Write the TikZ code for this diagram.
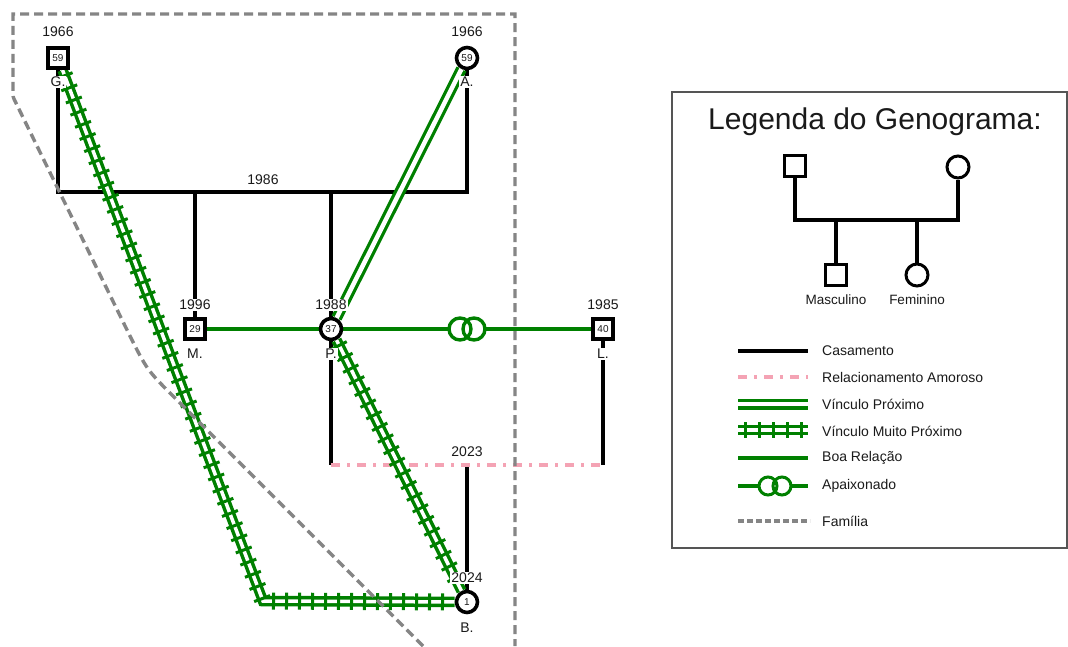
\documentclass[tikz,border=0pt]{standalone}
\usepackage{fontspec}
\setmainfont{Liberation Sans}
\usetikzlibrary{decorations.pathreplacing}
\definecolor{vgreen}{RGB}{0,128,0}
\definecolor{pinkrel}{HTML}{F4A3B4}
\definecolor{famgray}{HTML}{858585}
\definecolor{txt}{HTML}{1A1A1A}
\definecolor{boxgray}{HTML}{555555}
\pgfdeclarelayer{bg}
\pgfdeclarelayer{canvas}
\pgfsetlayers{canvas,bg,main}
\begin{document}
\begin{tikzpicture}[x=1pt,y=-1pt,
  male/.style={draw=black, line width=3.6pt, minimum size=20.5pt, inner sep=0pt, fill=white, text=txt, font=\fontsize{10}{10}\selectfont},
  female/.style={circle, draw=black, line width=3.6pt, minimum size=21pt, inner sep=0pt, fill=white, text=txt, font=\fontsize{10}{10}\selectfont},
  lmale/.style={draw=black, line width=3pt, minimum size=21pt, inner sep=0pt, fill=white},
  lfemale/.style={circle, draw=black, line width=3pt, minimum size=22pt, inner sep=0pt, fill=white},
  lbl/.style={font=\fontsize{14}{14}\selectfont, text=txt, fill=white, inner sep=1pt},
  legtxt/.style={font=\fontsize{14}{14}\selectfont, text=txt, anchor=west, inner sep=0pt},
  mar/.style={draw=black, line width=3.5pt},
  good/.style={draw=vgreen, line width=3.4pt},
  closebond/.style={draw=vgreen, line width=11pt, postaction={draw=white, line width=4.5pt}},
  vclosebond/.style={draw=vgreen, line width=10.5pt,
     postaction={draw=white, line width=3.5pt},
     postaction={decorate, draw=vgreen, line width=3pt,
       decoration={ticks, segment length=13pt, amplitude=8.5pt, pre=moveto, pre length=6pt, post=moveto, post length=4pt}}},
  rel/.style={draw=pinkrel, line width=3.4pt, dash pattern=on 9pt off 7pt on 3pt off 7pt},
  fam/.style={draw=famgray, line width=3.4pt, dash pattern=on 9pt off 5pt},
  passion/.style={draw=vgreen, line width=3.4pt}
]
\useasboundingbox (0,0) rectangle (1068,646);
\begin{pgfonlayer}{canvas}
  \fill[white] (0,0) rectangle (1068,646);
\end{pgfonlayer}

% ---------- persons ----------
\node[male]   (G) at (58,58)   {59};
\node[female] (A) at (467,58)  {59};
\node[male]   (M) at (195,329) {29};
\node[female] (P) at (331,329) {37};
\node[male]   (L) at (603,329) {40};
\node[female] (B) at (467,602) {1};

\coordinate (gm) at (58,192);
\coordinate (am) at (467,192);
\coordinate (mc) at (195,192);
\coordinate (pc) at (331,192);
\coordinate (pb) at (331,465);
\coordinate (lb) at (603,465);
\coordinate (bt) at (467,465);
\coordinate (gb) at (263,601);
\coordinate (pa1) at (460,329);
\coordinate (pa2) at (474,329);

% ---------- labels ----------
\node[lbl] (tG) at (58,32) {1966};
\node[lbl] (nG) at (58,82) {G.};
\node[lbl] (tA) at (467,32) {1966};
\node[lbl] (nA) at (467,82) {A.};
\node[lbl] (tGA) at (263,180) {1986};
\node[lbl] (tM) at (195,305) {1996};
\node[lbl] (nM) at (195,354) {M.};
\node[lbl] (tP) at (331,305) {1988};
\node[lbl] (nP) at (331,354) {P.};
\node[lbl] (tL) at (603,305) {1985};
\node[lbl] (nL) at (603,354) {L.};
\node[lbl] (tPL) at (467,452) {2023};
\node[lbl] (tB) at (467,578) {2024};
\node[lbl] (nB) at (467,628) {B.};

\begin{pgfonlayer}{bg}
  % structure
  \draw[mar] (G) -- (gm) -- (am) -- (A);
  \draw[mar] (mc) -- (M);
  \draw[mar] (pc) -- (P);
  \draw[mar] (P) -- (pb);
  \draw[mar] (L) -- (lb);
  \draw[mar] (bt) -- (B);
  \draw[rel] (pb) -- (lb);
  % relations
  \draw[good] (M) -- (P);
  \draw[good] (P) -- (L);
  \fill[white] (pa1) circle (11pt) (pa2) circle (11pt);
  \draw[passion] (pa1) circle (11pt) (pa2) circle (11pt);
  \draw[closebond] (A) -- (P);
  \draw[vclosebond] (G) -- (gb) -- (B);
  \draw[vclosebond] (P) -- (B);
  % family boundary
  \draw[fam] (423,646) -- (175,398) .. controls (147,370) .. (129,334) -- (15,101) .. controls (13,97) .. (13,92) -- (13,14) -- (515,14) -- (515,646);
\end{pgfonlayer}

% ---------- legend ----------
\draw[draw=boxgray, line width=1.3pt] (672,92) rectangle (1067,548);
\node[font=\fontsize{30}{30}\selectfont, text=txt] (title) at (875,122) {Legenda do Genograma:};

\node[lmale]   (lm)  at (795,166) {};
\node[lfemale] (lf)  at (958,167) {};
\node[lmale]   (lc1) at (836,275) {};
\node[lfemale] (lc2) at (917,275) {};
\coordinate (lml) at (795,220);
\coordinate (lfl) at (958,220);
\coordinate (lc1t) at (836,220);
\coordinate (lc2t) at (917,220);
\begin{pgfonlayer}{bg}
  \draw[mar] (lm) -- (lml) -- (lfl) -- (lf);
  \draw[mar] (lc1t) -- (lc1);
  \draw[mar] (lc2t) -- (lc2);
\end{pgfonlayer}
\node[font=\fontsize{13.5}{14}\selectfont, text=txt] (tmasc) at (836,300) {Masculino};
\node[font=\fontsize{13.5}{14}\selectfont, text=txt] (tfem) at (917,300) {Feminino};

\coordinate (k1a) at (738,351); \coordinate (k1b) at (808,351);
\coordinate (k2a) at (738,377); \coordinate (k2b) at (808,377);
\coordinate (k3a) at (738,404); \coordinate (k3b) at (808,404);
\coordinate (k4a) at (738,430); \coordinate (k4b) at (808,430);
\coordinate (k5a) at (738,458); \coordinate (k5b) at (808,458);
\coordinate (k6a) at (738,486); \coordinate (k6b) at (808,486);
\coordinate (k7a) at (738,521); \coordinate (k7b) at (810,521);

\draw[mar] (k1a) -- (k1b);
\draw[rel] (k2a) -- (k2b);
\draw[draw=vgreen, line width=11pt, postaction={draw=white, line width=4.5pt}] (k3a) -- (k3b);
\draw[draw=vgreen, line width=10.5pt, postaction={draw=white, line width=3.5pt},
  postaction={decorate, draw=vgreen, line width=3pt, decoration={ticks, segment length=14pt, amplitude=8pt, pre=moveto, pre length=7pt, post=moveto, post length=5pt}}] (k4a) -- (k4b);
\draw[good] (k5a) -- (k5b);
\draw[good] (k6a) -- (k6b);
\fill[white] (768,486) circle (9pt) (782,486) circle (9pt);
\draw[draw=vgreen, line width=3pt] (768,486) circle (9pt) (782,486) circle (9pt);
\draw[fam, dash pattern=on 6pt off 3pt] (k7a) -- (k7b);

\node[legtxt] (l1) at (822,351) {Casamento};
\node[legtxt] (l2) at (822,377) {Relacionamento Amoroso};
\node[legtxt] (l3) at (822,404) {Vínculo Próximo};
\node[legtxt] (l4) at (822,431) {Vínculo Muito Próximo};
\node[legtxt] (l5) at (822,458) {Boa Relação};
\node[legtxt] (l6) at (822,486) {Apaixonado};
\node[legtxt] (l7) at (822,521) {Família};
\end{tikzpicture}
\end{document}
